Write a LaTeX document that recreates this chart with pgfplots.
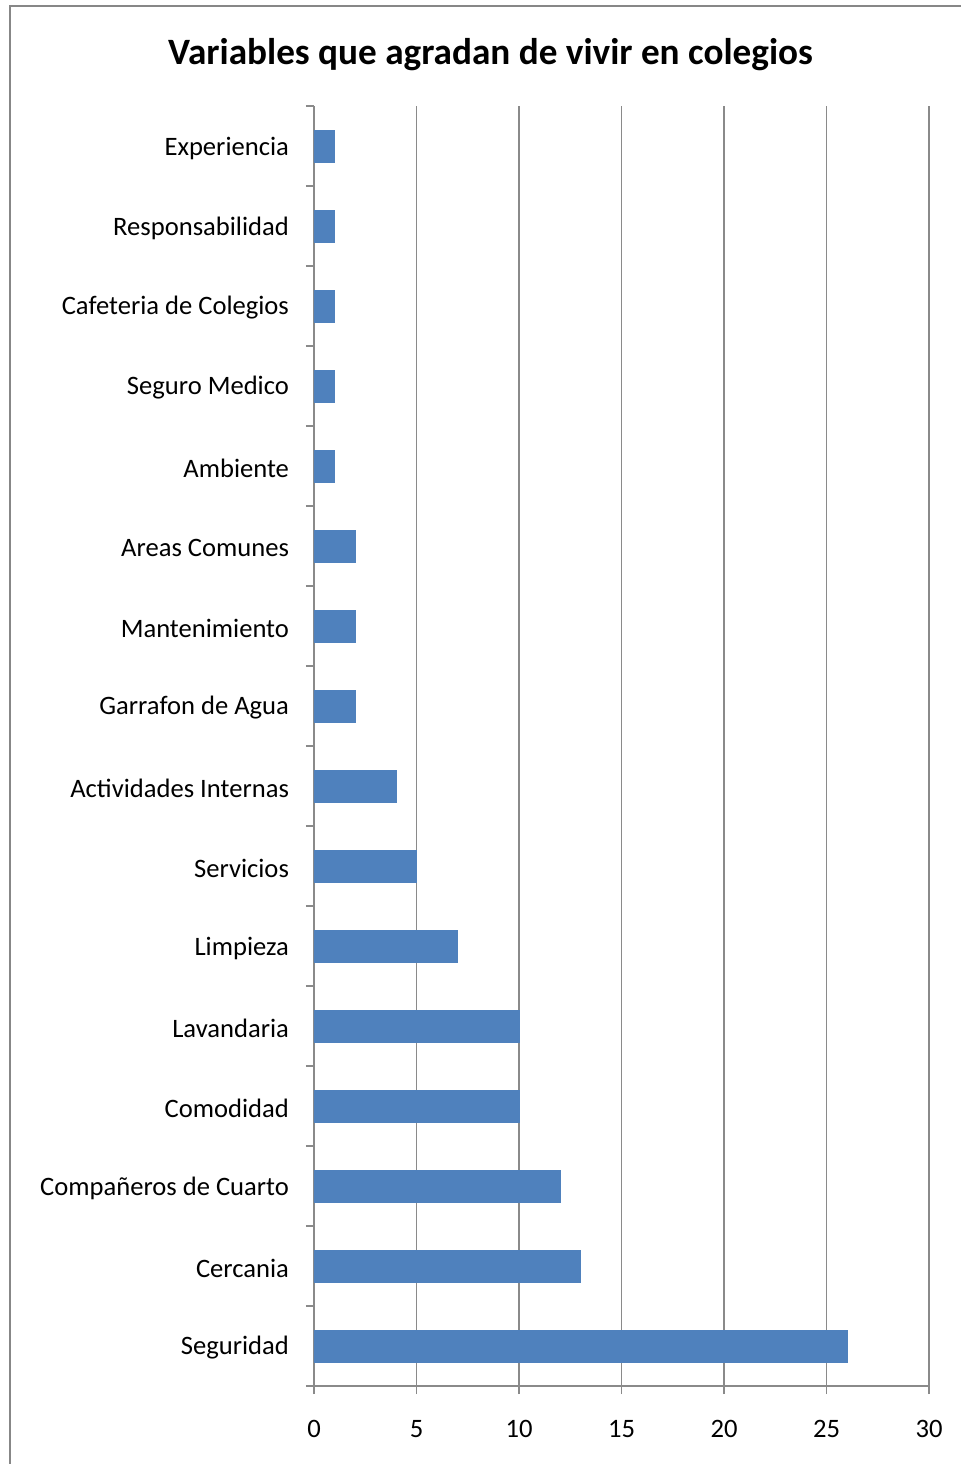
\documentclass[border=0pt]{standalone}
\usepackage{fontspec}
\setmainfont{Carlito}
\usepackage{pgfplots}
\pgfplotsset{compat=1.18}
\definecolor{barblue}{HTML}{4F81BD}
\definecolor{gridgray}{HTML}{8A8A8A}
\definecolor{framegray}{HTML}{878787}
\begin{document}
\begin{tikzpicture}
\useasboundingbox (0,0) rectangle (480.5pt,-732pt);
\fill[white] (0,0) rectangle (480.5pt,-732pt);
\draw[framegray, line width=1pt] (5pt,-740pt) -- (5pt,-3pt) -- (490pt,-3pt);
\node[font=\fontsize{18.6pt}{22pt}\selectfont\bfseries] at (245.25pt,-27.5pt) {Variables que agradan de vivir en colegios};
\begin{axis}[
  at={(157pt,-693pt)}, anchor=south west,
  scale only axis, width=307.5pt, height=640pt,
  xmin=0, xmax=30, ymin=-0.5, ymax=15.5,
  xtick={0,5,...,30},
  ytick={-0.5,0.5,...,15.5},
  y tick label as interval,
  yticklabels={Seguridad,Cercania,Compañeros de Cuarto,Comodidad,Lavandaria,Limpieza,Servicios,Actividades Internas,Garrafon de Agua,Mantenimiento,Areas Comunes,Ambiente,Seguro Medico,Cafeteria de Colegios,Responsabilidad,Experiencia},
  axis lines*=left,
  axis line style={gridgray, line width=0.6pt},
  xmajorgrids, ymajorgrids=false,
  major grid style={gridgray, line width=0.6pt},
  tick align=outside, major tick length=4pt,
  tick style={gridgray, line width=0.6pt},
  ticklabel style={font=\fontsize{13.3pt}{15pt}\selectfont},
  /pgf/number format/assume math mode=true,
  yticklabel style={xshift=-5pt, yshift=-1pt},
  xticklabel style={yshift=-9.5pt},
  clip=false,
]
\addplot[xbar, bar width=0.4, fill=barblue, draw=barblue] coordinates {
(26,0) (13,1) (12,2) (10,3) (10,4) (7,5) (5,6) (4,7) (2,8) (2,9) (2,10) (1,11) (1,12) (1,13) (1,14) (1,15)};
\end{axis}
\end{tikzpicture}
\end{document}
